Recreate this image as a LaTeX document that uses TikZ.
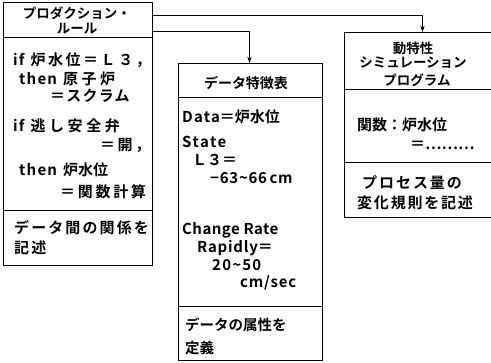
\documentclass[tikz,border=0pt]{standalone}
\usepackage{fontspec}
\usetikzlibrary{arrows.meta}
\setmainfont{Noto Sans CJK JP}[BoldFont=* Bold]
\newcommand\ls[2]{{\addfontfeature{LetterSpace=#1}#2}}
\begin{document}
\begin{tikzpicture}[x=1pt,y=-1pt,
  box/.style={draw, line width=1pt, anchor=north west, inner sep=0pt},
  sep/.style={line width=1pt},
  conn/.style={line width=1pt, -{Stealth[length=6pt,width=4pt]}},
  tw/.style={anchor=west, inner sep=0pt, font=\fontsize{15pt}{17pt}\selectfont\bfseries},
  te/.style={anchor=east, inner sep=0pt, font=\fontsize{15pt}{17pt}\selectfont\bfseries},
  tc/.style={anchor=center, inner sep=0pt, font=\fontsize{13.5pt}{16pt}\selectfont\bfseries}]
\useasboundingbox (0,0) rectangle (491,363);
% boxes
\node[box, minimum width=149pt, minimum height=263pt] (L) at (3,2) {};
\node[box, minimum width=144pt, minimum height=297pt] (M) at (178,63) {};
\node[box, minimum width=149pt, minimum height=185pt] (R) at (344,32) {};
% dividers
\draw[sep] (3,38) -- (152,38);
\draw[sep] (3,211) -- (152,211);
\draw[sep] (178,98) -- (322,98);
\draw[sep] (178,307) -- (322,307);
\draw[sep] (344,90) -- (493,90);
\draw[sep] (344,163) -- (493,163);
% connectors
\draw[conn] ([yshift=-14pt]L.north east) -| ([xshift=3.5pt]R.north);
\draw[conn] ([yshift=-30pt]L.north east) -| ([xshift=-1pt]M.north);
% left box text
\node[tc] (l1) at (77,13) {プロダクション・};
\node[tc] (l2) at (77,29) {ルール};
\node[tw] (l3) at (13,60) {\ls{8}{if}\hspace{6pt}\ls{17}{炉水位＝Ｌ３，}};
\node[tw] (l4) at (19,79) {\ls{8}{then}\hspace{6pt}\ls{24}{原子炉}};
\node[tw] (l5) at (50,96) {\ls{8}{＝スクラム}};
\node[tw] (l6) at (13,126) {\ls{8}{if}\hspace{6pt}\ls{24}{逃し安全弁}};
\node[tw] (l7) at (100,145) {\ls{17}{＝開，}};
\node[tw] (l8) at (19,170) {\ls{8}{then}\hspace{6pt}炉水位};
\node[tw] (l9) at (60,192) {\ls{18}{＝関数計算}};
\node[tw] (l10) at (14,228) {\ls{14}{データ間の関係を}};
\node[tw] (l11) at (14,248) {\ls{14}{記述}};
% middle box text
\node[tc, font=\fontsize{14pt}{16pt}\selectfont\bfseries] (m1) at (246,83) {データ特徴表};
\node[tw] (m2) at (182,117) {\ls{8}{Data}＝炉水位};
\node[tw] (m3) at (182,142) {\ls{10}{State}};
\node[tw] (m4) at (192,160) {Ｌ３＝};
\node[tw] (m5) at (210,178) {\ls{5}{−63\textasciitilde66\,cm}};
\node[tw] (m6) at (182,230) {\ls{3}{Change Rate}};
\node[tw] (m7) at (197,248) {\ls{5}{Rapidly}＝};
\node[tw] (m8) at (212,265) {\ls{8}{20\textasciitilde50}};
\node[tw] (m9) at (240,283) {\ls{5}{cm/sec}};
\node[tw, font=\fontsize{14.5pt}{17pt}\selectfont\bfseries] (m10) at (185,325) {データの属性を};
\node[tw, font=\fontsize{14.5pt}{17pt}\selectfont\bfseries] (m11) at (185,348) {定義};
% right box text
\node[tc] (r1) at (413,48) {動特性};
\node[tc] (r2) at (413,63) {シミュレーション};
\node[tc] (r3) at (417,80) {プログラム};
\node[tw] (r4) at (357,125) {関数：炉水位};
\node[tw] (r5) at (410,145) {＝………};
\node[tw] (r6) at (362,183) {\ls{13}{プロセス量の}};
\node[tw] (r7) at (357,203) {\ls{12}{変化規則を記述}};
\end{tikzpicture}
\end{document}
